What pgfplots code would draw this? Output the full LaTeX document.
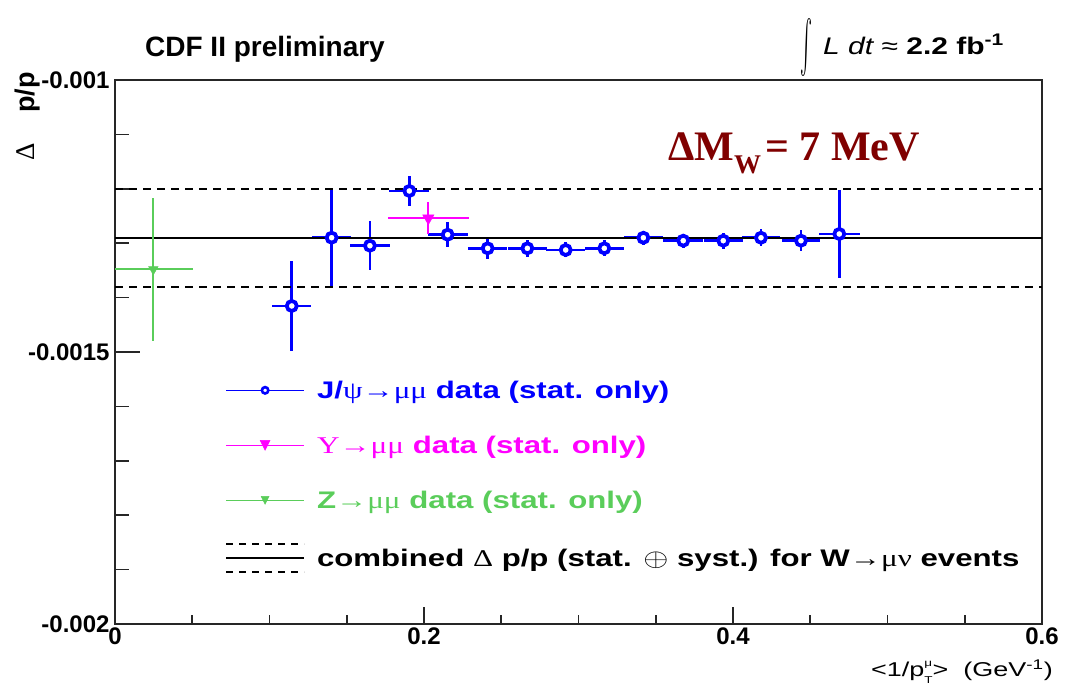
\documentclass[border=0pt]{standalone}
\usepackage{graphicx}
\usepackage{pgfplots}
\usepackage{pgfplotstable}
\pgfplotsset{compat=1.18}
\usepackage{fontspec}
\setmainfont{Liberation Sans}
\newfontfamily\symfont{Liberation Serif}

\definecolor{jpsiblue}{RGB}{0,0,255}
\definecolor{upsmag}{RGB}{255,0,255}
\definecolor{zgreen}{RGB}{90,205,90}
\definecolor{mwred}{RGB}{128,0,0}

\newcommand{\fs}[1]{\fontsize{#1}{#1}\selectfont}

% <1/pT> (GeV^-1), Delta p/p, statistical errors in x and y
\pgfplotstableread{
x       y           ex      ey
0.1144  -0.0014154  0.0125  0.0000833
0.1402  -0.0012899  0.0125  0.0000882
0.1650  -0.0013046  0.0127  0.0000450
0.1905  -0.0012040  0.0130  0.0000282
0.2153  -0.0012844  0.0130  0.0000235
0.2412  -0.0013094  0.0128  0.0000193
0.2669  -0.0013094  0.0128  0.0000153
0.2917  -0.0013125  0.0125  0.0000138
0.3167  -0.0013094  0.0125  0.0000147
0.3420  -0.0012900  0.0125  0.0000130
0.3678  -0.0012954  0.0128  0.0000130
0.3937  -0.0012954  0.0125  0.0000147
0.4181  -0.0012900  0.0125  0.0000153
0.4440  -0.0012954  0.0126  0.0000193
0.4688  -0.0012831  0.0132  0.0000805
}\jpsi

\pgfplotstableread{
x       y           ex      ey
0.2028  -0.0012540  0.0262  0.0000300
}\ups

\pgfplotstableread{
x       y           ex      ey
0.0248  -0.0013480  0.0255  0.0001310
}\zmm

\begin{document}
\begin{tikzpicture}[x=1pt,y=1pt]
\useasboundingbox (0,0) rectangle (1076,692);
\begin{axis}[
  at={(115pt,68pt)}, anchor=south west,
  width=927pt, height=544pt, scale only axis,
  xmin=0, xmax=0.6, ymin=-0.002, ymax=-0.001,
  axis line style={line width=1.6pt, black!85},
  xtick={0,0.2,0.4,0.6}, xticklabels={0,0.2,0.4,0.6},
  ytick={-0.002,-0.0015,-0.001}, yticklabels={-0.002,-0.0015,-0.001},
  minor x tick num=3, minor y tick num=4,
  tick align=inside, xtick pos=bottom, ytick pos=left,
  major tick length=25pt, minor tick length=14pt,
  xtick style={/pgfplots/major tick length=17pt, /pgfplots/minor tick length=9pt},
  tick style={line width=1.6pt, black!85},
  ticklabel style={font=\fs{24}\bfseries},
  yticklabel style={xshift=-2pt},
  scaled ticks=false,
  legend cell align=left,
  legend style={at={(axis cs:0.0712,-0.001548)}, anchor=north west,
    draw=none, fill=none, inner sep=0pt, row sep=31pt, column sep=12pt,
    nodes={inner sep=0pt, text height=20pt, text depth=4pt},
    font=\fs{24}\bfseries},
]
% J/psi error bars (drawn beneath the reference lines)
\addplot[only marks, mark=none, forget plot,
  error bars/.cd, x dir=both, x explicit, y dir=both, y explicit,
  error mark=none, error bar style={jpsiblue, line width=2.6pt}]
  table[x=x, y=y, x error=ex, y error=ey]{\jpsi};

% combined W -> mu nu result with its band
\addplot[black, line width=2pt, forget plot] coordinates {(0,-0.00129) (0.6,-0.00129)};
\addplot[black, line width=2pt, dash pattern=on 8pt off 6pt, forget plot] coordinates {(0,-0.0012) (0.6,-0.0012)};
\addplot[black, line width=2pt, dash pattern=on 8pt off 6pt, forget plot] coordinates {(0,-0.00138) (0.6,-0.00138)};

% J/psi markers
\addplot[only marks, mark=*, mark size=5pt,
  mark options={draw=jpsiblue, fill=white, line width=3.8pt},
  legend image code/.code={
    \draw[jpsiblue, line width=1.5pt] (0pt,0pt) -- (78pt,0pt);
    \draw[jpsiblue, line width=2.6pt, fill=white] (39pt,0pt) circle (3.2pt);
  }]
  table[x=x, y=y]{\jpsi};
\addlegendentry{\textcolor{jpsiblue}{\scalebox{1.3}[1]{J/{\symfont\mdseries ψ→μμ} data (stat. only)}}}

% Upsilon
\addplot[only marks, mark=triangle*, mark size=6.5pt,
  mark options={rotate=180, fill=upsmag, draw=upsmag, line width=0.5pt},
  legend image code/.code={
    \draw[upsmag, line width=1.5pt] (0pt,0pt) -- (78pt,0pt);
    \fill[upsmag] (34pt,5pt) -- (44pt,5pt) -- (39pt,-5pt) -- cycle;
  },
  error bars/.cd, x dir=both, x explicit, y dir=both, y explicit,
  error mark=none, error bar style={upsmag, line width=2pt}]
  table[x=x, y=y, x error=ex, y error=ey]{\ups};
\addlegendentry{\textcolor{upsmag}{\scalebox{1.3}[1]{{\symfont\mdseries Υ→μμ} data (stat. only)}}}

% Z
\addplot[only marks, mark=triangle*, mark size=5.5pt,
  mark options={rotate=180, fill=zgreen, draw=zgreen, line width=0.5pt},
  legend image code/.code={
    \draw[zgreen, line width=1.5pt] (0pt,0pt) -- (78pt,0pt);
    \fill[zgreen] (35pt,4pt) -- (43pt,4pt) -- (39pt,-4pt) -- cycle;
  },
  error bars/.cd, x dir=both, x explicit, y dir=both, y explicit,
  error mark=none, error bar style={zgreen, line width=2pt}]
  table[x=x, y=y, x error=ex, y error=ey]{\zmm};
\addlegendentry{\textcolor{zgreen}{\scalebox{1.3}[1]{Z{\symfont\mdseries →μμ} data (stat. only)}}}

\addlegendimage{legend image code/.code={
    \draw[black, line width=1.8pt] (0pt,0pt) -- (78pt,0pt);
    \draw[black, line width=1.5pt, dash pattern=on 7pt off 6pt] (0pt,14pt) -- (78pt,14pt);
    \draw[black, line width=1.5pt, dash pattern=on 7pt off 6pt] (0pt,-14pt) -- (78pt,-14pt);
  }}
\addlegendentry{\scalebox{1.3}[1]{combined {\symfont\mdseries Δ} p/p (stat. $\oplus$ syst.) for W{\symfont\mdseries →μν} events}}
\end{axis}

% titles and labels
\node[anchor=base west, inner sep=0pt] at (145,635) {\fs{28}\bfseries CDF II preliminary};
\node[inner sep=0pt] at (806,644) {\resizebox*{12pt}{58pt}{$\int$}};
\node[anchor=base west, inner sep=0pt] at (823,637)
  {\scalebox{1.25}[1]{\fs{24}\itshape L dt\upshape\ ≈ \bfseries 2.2 fb\textsuperscript{-1}}};
\node[anchor=base west, inner sep=0pt, text=mwred] at (668,531)
  {\fs{42}\symfont\bfseries ΔM\raisebox{-13pt}{\fs{27}W}\hspace{4pt}= 7 MeV};
\node[rotate=90, anchor=east, inner sep=0pt] at (28,620)
  {\fs{27}{\symfont Δ}\hspace{30pt}\bfseries p/p};
\node[anchor=base east, inner sep=0pt] at (1053,15)
  {\scalebox{1.35}[1]{\fs{20}<1/p\makebox[0pt][l]{\raisebox{10pt}{\fs{10}μ}}\raisebox{-7pt}{\fs{10}T}>~~(GeV\textsuperscript{-1})}};
\end{tikzpicture}
\end{document}
